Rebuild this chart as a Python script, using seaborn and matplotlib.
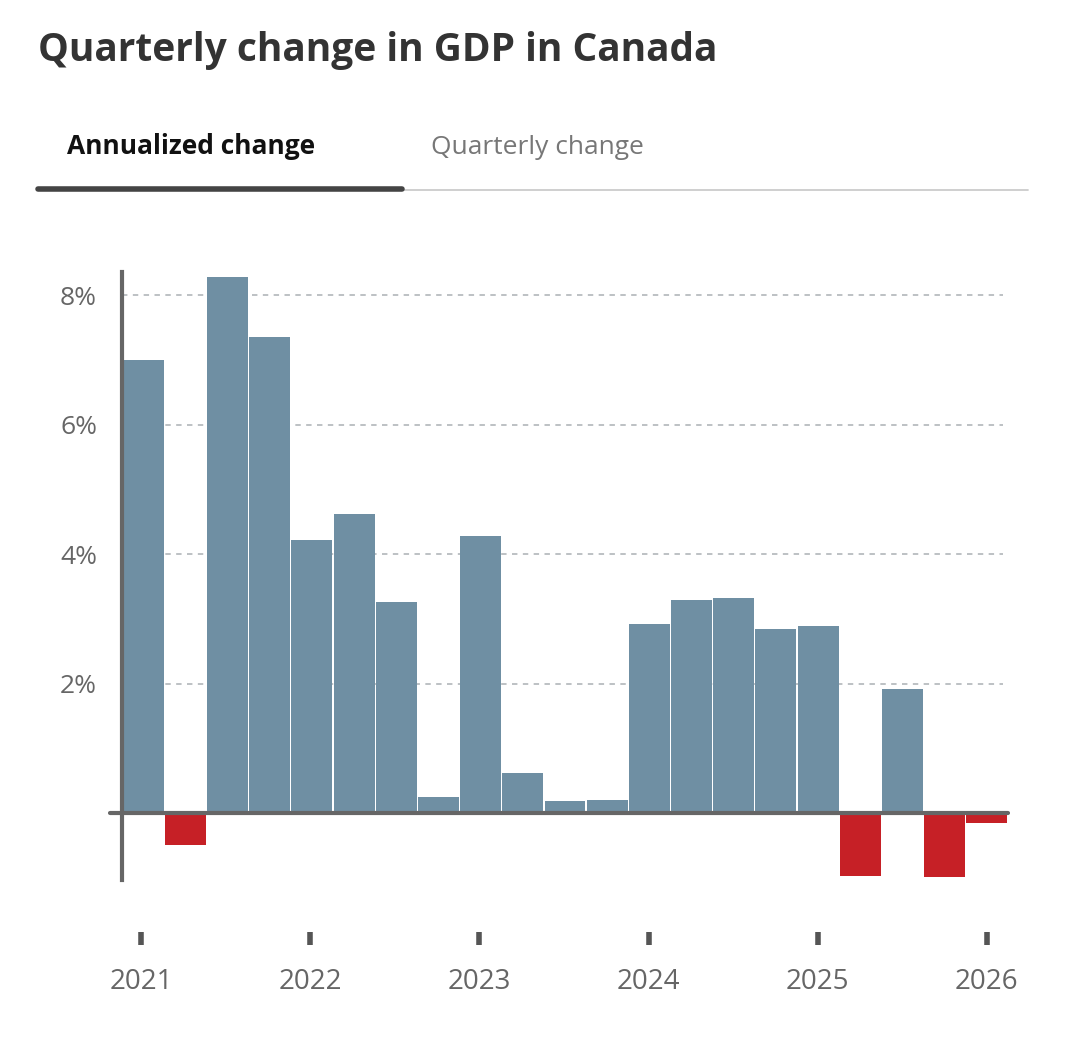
import numpy as np
import pandas as pd
import matplotlib.pyplot as plt
import matplotlib.transforms as mtrans
import seaborn as sns

quarters = ['2021Q1', '2021Q2', '2021Q3', '2021Q4', '2022Q1', '2022Q2', '2022Q3',
            '2022Q4', '2023Q1', '2023Q2', '2023Q3', '2023Q4', '2024Q1', '2024Q2',
            '2024Q3', '2024Q4', '2025Q1', '2025Q2', '2025Q3', '2025Q4', '2026Q1']
values = [7.0, -0.49, 8.29, 7.35, 4.22, 4.63, 3.27, 0.25, 4.28, 0.63, 0.19,
          0.2, 2.93, 3.3, 3.32, 2.84, 2.89, -0.97, 1.92, -0.99, -0.15]
year_labels = ['2021', '2022', '2023', '2024', '2025', '2026']
y_ticks = [2, 4, 6, 8]

W, H = 1071, 1064
sns.set_style('white')
plt.rcParams['font.family'] = ['Open Sans', 'DejaVu Sans']

df = pd.DataFrame({'quarter': quarters, 'value': values})
df['sign'] = np.where(df['value'] < 0, 'neg', 'pos')

fig = plt.figure(figsize=(W / 100, H / 100), dpi=100)
ax = fig.add_axes([122 / W, 1 - 880 / H, (1008 - 122) / W, (880 - 272) / H])
sns.barplot(data=df, x='quarter', y='value', hue='sign',
            palette={'pos': '#6f8fa3', 'neg': '#c62026'}, saturation=1,
            width=0.97, dodge=False, legend=False, ax=ax, edgecolor='none')
ax.set_xlim(-0.5, 20.5)
ax.set_ylim(-1.03, 8.36)
ax.set_xlabel('')
ax.set_ylabel('')
for s in ['top', 'right', 'bottom']:
    ax.spines[s].set_visible(False)
ax.spines['left'].set_color('#666666')
ax.spines['left'].set_linewidth(3)
ax.set_xticks([])
ax.set_yticks(y_ticks)
ax.set_yticklabels([f'{t}%' for t in y_ticks], fontsize=19, color='#666666')
ax.tick_params(axis='y', length=10, width=3, color='#666666', pad=8)
for t in y_ticks:
    ax.axhline(t, xmin=0, xmax=(1003 - 122) / (1008 - 122), color='#b8bcbf',
               ls=(0, (3, 3)), lw=1.3, zorder=0)
ax.axhline(0, xmin=-12 / 886, xmax=1.0, color='#666666', lw=3, clip_on=False)

trans = mtrans.blended_transform_factory(ax.transData, fig.transFigure)
for i, yl in enumerate(year_labels):
    x = i * 4.01 - 0.05
    ax.plot([x, x], [1 - 932 / H, 1 - 945 / H], color='#555555', lw=4,
            transform=trans, clip_on=False, solid_capstyle='butt')
    ax.text(x, 1 - 982 / H, yl, transform=trans, ha='center', va='center',
            fontsize=20, color='#666666')

fig.text(38 / W, 1 - 50 / H, 'Quarterly change in GDP in Canada', fontsize=28,
         fontweight='bold', color='#333333', va='center')
fig.text(67 / W, 1 - 147 / H, 'Annualized change', fontsize=19,
         fontweight='bold', color='#111111', va='center')
fig.text(431 / W, 1 - 147 / H, 'Quarterly change', fontsize=19,
         color='#777777', va='center')
fig.add_artist(plt.Line2D([38 / W, 1028 / W], [1 - 190 / H] * 2, color='#cccccc', lw=1.3))
fig.add_artist(plt.Line2D([38 / W, 402 / W], [1 - 189 / H] * 2, color='#444444', lw=4))

fig.savefig('out.png', dpi=100, facecolor='white')
